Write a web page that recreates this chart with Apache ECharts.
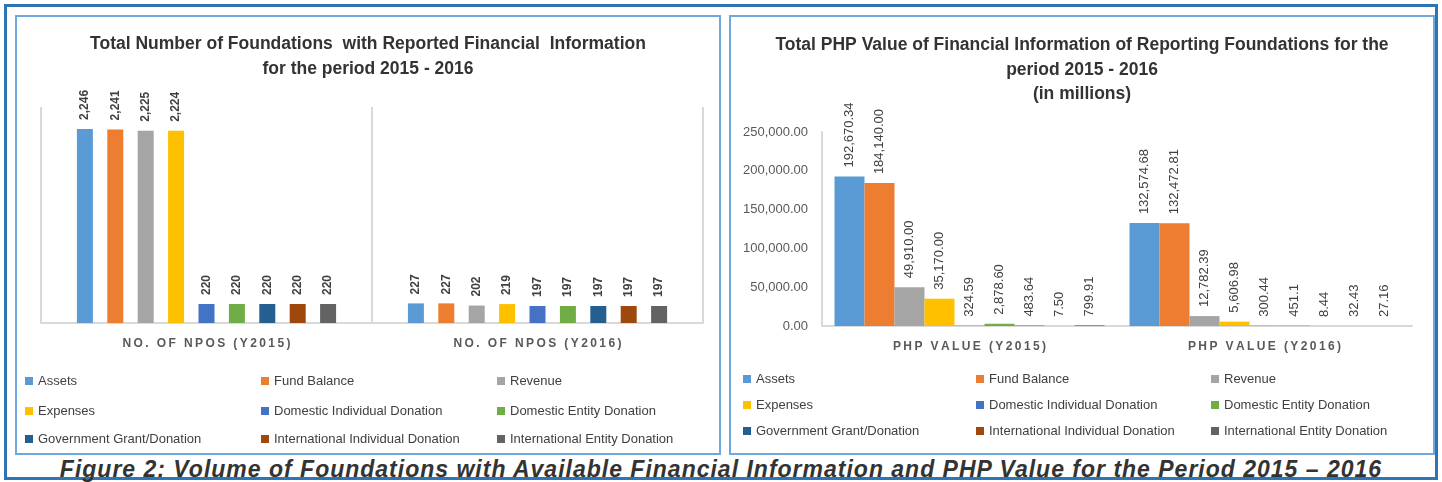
<!DOCTYPE html>
<html>
<head>
<meta charset="utf-8">
<script src="https://cdn.jsdelivr.net/npm/echarts@6/dist/echarts.min.js"></script>
<style>
  body { margin: 0; background: #fff; font-family: "Liberation Sans", Arial, sans-serif; }
  .frame { position: absolute; left: 4px; top: 4px; width: 1434px; height: 476px; box-sizing: border-box; border: 3px solid #2e75b6; }
  .panel { position: absolute; box-sizing: border-box; border: 2px solid #6fa8dc; pointer-events: none; }
  .chart { position: absolute; }
  .caption { position: absolute; left: 0; width: 1442px; top: 457px; text-align: center; font-size: 23px; line-height: 25px; letter-spacing: 1px; font-weight: bold; font-style: italic; color: #333; }
</style>
</head>
<body>
<div class="frame"></div>
<div id="chart1" class="chart" style="left: 15px; top: 15px; width: 706px; height: 440px"></div>
<div id="chart2" class="chart" style="left: 729px; top: 15px; width: 706px; height: 440px"></div>
<div class="panel" style="left: 15px; top: 15px; width: 706px; height: 440px"></div>
<div class="panel" style="left: 729px; top: 15px; width: 706px; height: 440px"></div>
<div class="caption">Figure 2: Volume of Foundations with Available Financial Information and PHP Value for the Period 2015 – 2016</div>

<script>
// legend items (one series each), in Excel order
const items = [
  "Assets",
  "Fund Balance",
  "Revenue",
  "Expenses",
  "Domestic Individual Donation",
  "Domestic Entity Donation",
  "Government Grant/Donation",
  "International Individual Donation",
  "International Entity Donation",
];
const colors = ["#5b9bd5", "#ed7d31", "#a5a5a5", "#ffc000", "#4472c4", "#70ad47", "#255e91", "#9e480e", "#636363"];

// chart 1: number of NPOs
const npoCategories = ["NO. OF NPOS (Y2015)", "NO. OF NPOS (Y2016)"];
const npo2015 = [2246, 2241, 2225, 2224, 220, 220, 220, 220, 220];
const npo2016 = [227, 227, 202, 219, 197, 197, 197, 197, 197];

// chart 2: PHP value (in millions)
const phpCategories = ["PHP VALUE (Y2015)", "PHP VALUE (Y2016)"];
const php2015 = [192670.34, 184140.0, 49910.0, 35170.0, 324.59, 2878.6, 483.64, 7.5, 799.91];
const php2016 = [132574.68, 132472.81, 12782.39, 5606.98, 300.44, 451.1, 8.44, 32.43, 27.16];
const php2015Digits = [2, 2, 2, 2, 2, 2, 2, 2, 2];
const php2016Digits = [2, 2, 2, 2, 2, 1, 2, 2, 2];
const phpTicks = [0, 50000, 100000, 150000, 200000, 250000];

const font = "Liberation Sans";

function spaced(s) {
  // Excel draws these axis labels letter-spaced
  return s.split("").join("\u2009");
}

function buildLegends(xs, ys) {
  return items.map((name, i) => ({
    data: [name],
    left: xs[i % 3],
    top: ys[Math.floor(i / 3)],
    padding: 0,
    icon: "rect",
    itemWidth: 8,
    itemHeight: 8,
    selectedMode: false,
    textStyle: { fontFamily: font, fontSize: 13, color: "#404040", lineHeight: 14 },
  }));
}

function fmt(v, d) {
  return v.toLocaleString("en-US", { minimumFractionDigits: d, maximumFractionDigits: d });
}

const titleStyle = { fontFamily: font, fontSize: 17.5, fontWeight: "bold", color: "#333", lineHeight: 24.5 };

const option1 = {
  animation: false,
  color: colors,
  textStyle: { fontFamily: font },
  title: {
    text: "Total Number of Foundations  with Reported Financial  Information\nfor the period 2015 - 2016",
    left: "center",
    top: 17,
    padding: 0,
    textStyle: titleStyle,
  },
  legend: buildLegends([10, 246, 482], [359, 389, 417]),
  grid: { left: 26, top: 92, width: 662, height: 216 },
  xAxis: {
    type: "category",
    data: npoCategories,
    axisLine: { lineStyle: { color: "#d9d9d9", width: 2 } },
    axisTick: { show: false },
    splitLine: { show: true, lineStyle: { color: "#d9d9d9", width: 2 } },
    axisLabel: {
      margin: 15,
      fontFamily: font,
      fontSize: 12,
      fontWeight: "bold",
      color: "#595959",
      formatter: spaced,
    },
  },
  yAxis: { type: "value", min: 0, max: 2500, show: false },
  series: items.map((name, i) => ({
    name,
    type: "bar",
    barWidth: 16,
    barGap: "90%",
    data: [npo2015[i], npo2016[i]],
    label: {
      show: true,
      position: "top",
      rotate: 90,
      align: "left",
      verticalAlign: "middle",
      distance: 9,
      fontFamily: font,
      fontSize: 12,
      fontWeight: "bold",
      color: "#404040",
      formatter: (p) => p.value.toLocaleString("en-US"),
    },
  })),
};

const option2 = {
  animation: false,
  color: colors,
  textStyle: { fontFamily: font },
  title: {
    text: "Total PHP Value of Financial Information of Reporting Foundations for the\nperiod 2015 - 2016\n(in millions)",
    left: "center",
    top: 18,
    padding: 0,
    textStyle: titleStyle,
  },
  legend: buildLegends([14, 247, 482], [357, 383, 409]),
  grid: { left: 93, top: 117, width: 590, height: 194 },
  xAxis: {
    type: "category",
    data: phpCategories,
    axisLine: { lineStyle: { color: "#d9d9d9", width: 2 } },
    axisTick: { show: false },
    axisLabel: {
      margin: 15,
      fontFamily: font,
      fontSize: 12,
      fontWeight: "bold",
      color: "#595959",
      formatter: spaced,
    },
  },
  yAxis: {
    type: "value",
    min: phpTicks[0],
    max: phpTicks[phpTicks.length - 1],
    interval: phpTicks[1] - phpTicks[0],
    axisLine: { show: true, lineStyle: { color: "#d9d9d9", width: 2 } },
    axisTick: { show: false },
    splitLine: { show: false },
    axisLabel: {
      margin: 14,
      fontFamily: font,
      fontSize: 13,
      color: "#595959",
      formatter: (v) => fmt(v, 2),
    },
  },
  series: items.map((name, i) => ({
    name,
    type: "bar",
    barWidth: 30,
    barGap: "0%",
    data: [php2015[i], php2016[i]],
    label: {
      show: true,
      position: "top",
      rotate: 90,
      align: "left",
      verticalAlign: "middle",
      distance: 9,
      fontFamily: font,
      fontSize: 13,
      color: "#404040",
      formatter: (p) => fmt(p.value, p.dataIndex === 0 ? php2015Digits[i] : php2016Digits[i]),
    },
  })),
};

const myChart1 = echarts.init(document.getElementById("chart1"));
const myChart2 = echarts.init(document.getElementById("chart2"));
myChart1.setOption(option1);
myChart2.setOption(option2);
</script>
</body>
</html>
